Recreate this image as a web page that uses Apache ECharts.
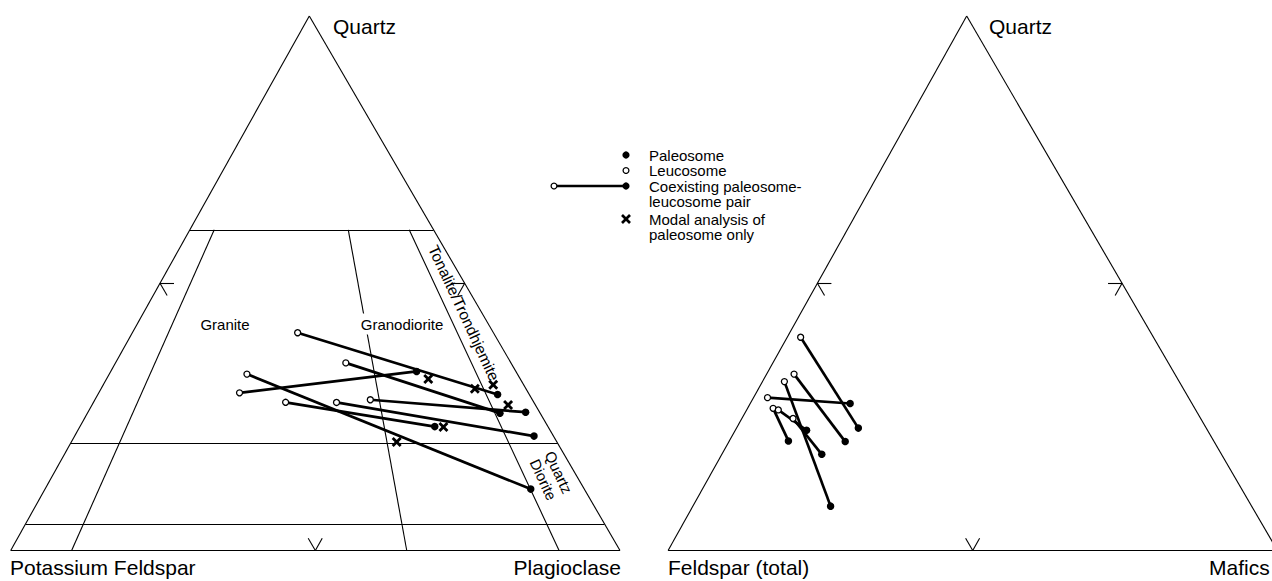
<!DOCTYPE html>
<html>
<head>
<meta charset="utf-8">
<script src="https://cdn.jsdelivr.net/npm/echarts@6/dist/echarts.min.js"></script>
<style>
  html, body { margin: 0; padding: 0; background: #fff; }
  #chart { width: 1272px; height: 581px; }
</style>
</head>
<body>
<div id="chart"></div>
<script>
// ---- Modal compositions, percent, ordered [top, left, right] of each triangle ----
// QAP triangle: [Quartz, Potassium Feldspar, Plagioclase]
const qapLeucosome = [
  [40.7, 32.1, 27.1], [35.1, 27.1, 37.8], [33.0, 44.4, 22.6], [29.5, 47.4, 23.1],
  [27.7, 40.7, 31.5], [27.7, 32.4, 39.9], [28.2, 26.6, 45.2]
];
const qapPaleosome = [
  [29.2, 5.2, 65.6], [25.7, 6.6, 67.7], [11.5, 8.8, 79.8], [33.5, 16.3, 50.2],
  [23.2, 18.6, 58.3], [21.4, 3.2, 75.4], [25.9, 2.3, 71.9]
];
const qapModalOnly = [
  [32.1, 15.1, 52.8], [30.3, 8.4, 61.4], [31.0, 5.0, 64.0],
  [27.2, 4.5, 68.3], [23.1, 17.2, 59.7], [20.3, 26.3, 53.4]
];
// QFM triangle: [Quartz, Feldspar (total), Mafics]
const qfmLeucosome = [
  [39.9, 57.9, 2.2], [33.0, 62.5, 4.5], [31.6, 64.8, 3.6], [28.6, 69.1, 2.3],
  [26.6, 69.2, 4.2], [26.3, 68.5, 5.2], [24.7, 66.9, 8.4]
];
const qfmPaleosome = [
  [22.9, 57.1, 20.0], [20.4, 60.6, 19.1], [8.3, 69.1, 22.6], [27.5, 56.1, 16.4],
  [20.5, 69.8, 9.7], [22.5, 65.8, 11.7], [18.0, 65.6, 16.4]
];

// ---- Classification boundaries of the QAP diagram ----
const qapQuartzLevels = [60, 20, 5];     // Q % (horizontal lines)
const qapPlagRatios = [10, 65, 90];      // 100*P/(A+P), drawn from Q = 60 to the base
const ratioTopQuartz = 60;

// ---- Text ----
const qapApexLabels = ['Quartz', 'Potassium Feldspar', 'Plagioclase'];
const qfmApexLabels = ['Quartz', 'Feldspar (total)', 'Mafics'];
const fieldLabels = ['Granite', 'Granodiorite', 'Tonalite/Trondhjemite', 'Quartz\nDiorite'];
const legendLabels = ['Paleosome', 'Leucosome', 'Coexisting paleosome-', 'leucosome pair',
                      'Modal analysis of', 'paleosome only'];

// ---- Layout: triangle corners in the plot's coordinate space ----
const frames = {
  qap: { top: [309.3, 16], left: [10.7, 550.5], right: [620, 550.5] },
  qfm: { top: [966.7, 16], left: [668.1, 550.5], right: [1277.4, 550.5] }
};

function tern(f, c) {
  const s = c[0] + c[1] + c[2];
  const t = c[0] / s, l = c[1] / s, r = c[2] / s;
  return [t * f.top[0] + l * f.left[0] + r * f.right[0],
          t * f.top[1] + l * f.left[1] + r * f.right[1]];
}

const FONT = '"Liberation Sans", Arial, Helvetica, sans-serif';
const segs = [];      // thin outline / boundary segments
const tieSegs = [];   // paleosome-leucosome pairs

function outline(f) {
  segs.push([tern(f, [100, 0, 0]), tern(f, [0, 100, 0])]);
  segs.push([tern(f, [0, 100, 0]), tern(f, [0, 0, 100])]);
  segs.push([tern(f, [0, 0, 100]), tern(f, [100, 0, 0])]);
  // 50 % marks at the middle of each side
  const d = 2.3;
  segs.push([tern(f, [50, 50, 0]), tern(f, [50, 50 - d, d])]);
  segs.push([tern(f, [50, 50, 0]), tern(f, [50 - d, 50, d])]);
  segs.push([tern(f, [50, 0, 50]), tern(f, [50, d, 50 - d])]);
  segs.push([tern(f, [50, 0, 50]), tern(f, [50 - d, d, 50])]);
  segs.push([tern(f, [0, 50, 50]), tern(f, [d, 50, 50 - d])]);
  segs.push([tern(f, [0, 50, 50]), tern(f, [d, 50 - d, 50])]);
}
outline(frames.qap);
outline(frames.qfm);

qapQuartzLevels.forEach(q => {
  segs.push([tern(frames.qap, [q, 100 - q, 0]), tern(frames.qap, [q, 0, 100 - q])]);
});
qapPlagRatios.forEach(r => {
  const rest = 100 - ratioTopQuartz;
  segs.push([
    tern(frames.qap, [ratioTopQuartz, rest * (100 - r) / 100, rest * r / 100]),
    tern(frames.qap, [0, 100 - r, r])
  ]);
});

qapLeucosome.forEach((c, i) => tieSegs.push([tern(frames.qap, c), tern(frames.qap, qapPaleosome[i])]));
qfmLeucosome.forEach((c, i) => tieSegs.push([tern(frames.qfm, c), tern(frames.qfm, qfmPaleosome[i])]));

const openPts = qapLeucosome.map(c => tern(frames.qap, c)).concat(qfmLeucosome.map(c => tern(frames.qfm, c)));
const filledPts = qapPaleosome.map(c => tern(frames.qap, c)).concat(qfmPaleosome.map(c => tern(frames.qfm, c)));
const crossPts = qapModalOnly.map(c => tern(frames.qap, c));

const CROSS = 'path://M2,0 L5,3 L8,0 L10,2 L7,5 L10,8 L8,10 L5,7 L2,10 L0,8 L3,5 L0,2 Z';

// ---- Text placement ----
function txt(x, y, text, size, align, extra) {
  return Object.assign({
    type: 'text', x: x, y: y, silent: true, z: 20,
    style: Object.assign({
      text: text, font: size + 'px ' + FONT, fill: '#000',
      align: align, textAlign: align, verticalAlign: 'middle', textVerticalAlign: 'middle'
    }, (extra && extra.style) || {})
  }, extra ? { rotation: extra.rotation || 0 } : {});
}

const rot = -65 * Math.PI / 180;
const graphics = [
  txt(333, 26, qapApexLabels[0], 21, 'left'),
  txt(10, 567, qapApexLabels[1], 21, 'left'),
  txt(621, 567, qapApexLabels[2], 21, 'right'),
  txt(989, 26, qfmApexLabels[0], 21, 'left'),
  txt(668, 567, qfmApexLabels[1], 21, 'left'),
  txt(1209, 567, qfmApexLabels[2], 21, 'left'),
  txt(225, 324, fieldLabels[0], 15, 'center'),
  txt(402, 324, fieldLabels[1], 15, 'center', { style: { backgroundColor: '#fff', padding: [3, 2] } }),
  txt(464, 313, fieldLabels[2], 15.5, 'center', { rotation: rot }),
  txt(551, 476, fieldLabels[3], 15, 'center', { rotation: rot, style: { lineHeight: 17 } })
];

// Legend
const lgX = 626, lgTextX = 649;
const rows = [155, 170.5, 186, 201.5, 219, 234.5];
legendLabels.forEach((t, i) => graphics.push(txt(lgTextX, rows[i], t, 15, 'left')));
graphics.push(
  { type: 'line', silent: true, z: 20, shape: { x1: 554, y1: rows[2], x2: lgX, y2: rows[2] }, style: { stroke: '#000', lineWidth: 2.6 } },
  { type: 'circle', silent: true, z: 21, shape: { cx: lgX, cy: rows[0], r: 3.6 }, style: { fill: '#000' } },
  { type: 'circle', silent: true, z: 21, shape: { cx: lgX, cy: rows[1], r: 2.9 }, style: { fill: '#fff', stroke: '#000', lineWidth: 1.3 } },
  { type: 'circle', silent: true, z: 21, shape: { cx: 554, cy: rows[2], r: 2.9 }, style: { fill: '#fff', stroke: '#000', lineWidth: 1.3 } },
  { type: 'circle', silent: true, z: 21, shape: { cx: lgX, cy: rows[2], r: 3.6 }, style: { fill: '#000' } },
  { type: 'line', silent: true, z: 21, shape: { x1: lgX - 4, y1: rows[4] - 4, x2: lgX + 4, y2: rows[4] + 4 }, style: { stroke: '#000', lineWidth: 2.6 } },
  { type: 'line', silent: true, z: 21, shape: { x1: lgX - 4, y1: rows[4] + 4, x2: lgX + 4, y2: rows[4] - 4 }, style: { stroke: '#000', lineWidth: 2.6 } }
);

const chart = echarts.init(document.getElementById('chart'), null, { renderer: 'svg' });
chart.setOption({
  animation: false,
  backgroundColor: '#fff',
  grid: { left: 0, right: 0, top: 0, bottom: 0 },
  xAxis: { type: 'value', min: 0, max: 1272, show: false },
  yAxis: { type: 'value', min: 0, max: 581, inverse: true, show: false },
  series: [
    {
      type: 'lines', coordinateSystem: 'cartesian2d', silent: true, z: 1,
      lineStyle: { color: '#000', width: 1.1, opacity: 1, curveness: 0 },
      data: segs.map(s => ({ coords: s }))
    },
    {
      type: 'lines', coordinateSystem: 'cartesian2d', silent: true, z: 2,
      lineStyle: { color: '#000', width: 2.7, opacity: 1, curveness: 0 },
      data: tieSegs.map(s => ({ coords: s }))
    },
    {
      type: 'scatter', silent: true, z: 3, symbol: 'circle', symbolSize: 6,
      itemStyle: { color: '#fff', borderColor: '#000', borderWidth: 1.3, opacity: 1 },
      data: openPts
    },
    {
      type: 'scatter', silent: true, z: 4, symbol: 'circle', symbolSize: 7.5,
      itemStyle: { color: '#000', opacity: 1 },
      data: filledPts
    },
    {
      type: 'scatter', silent: true, z: 5, symbol: CROSS, symbolSize: 10,
      itemStyle: { color: '#000', opacity: 1 },
      data: crossPts
    }
  ],
  graphic: { elements: graphics }
});
</script>
</body>
</html>
